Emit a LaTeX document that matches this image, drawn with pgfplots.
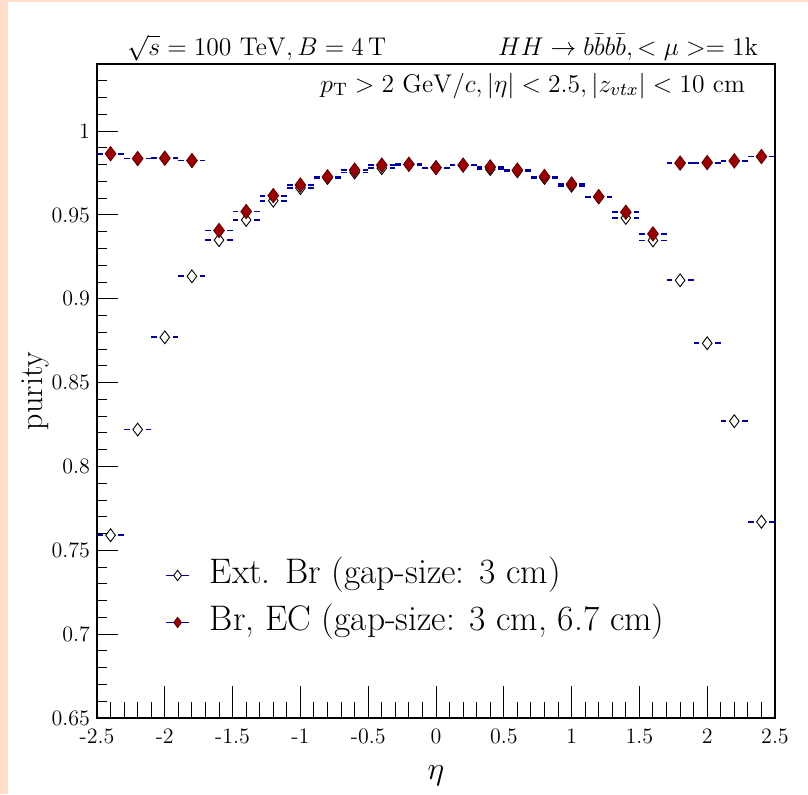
\RequirePackage{fix-cm}
\documentclass[border=0pt]{standalone}
\usepackage{pgfplots}
\pgfplotsset{compat=1.18}
\definecolor{peach}{RGB}{255,221,200}
\definecolor{errblue}{RGB}{0,0,160}
\definecolor{mred}{RGB}{155,0,0}
\definecolor{mredd}{RGB}{90,0,0}
\begin{document}
\begin{tikzpicture}
\useasboundingbox (-48.5pt,-38pt) rectangle (355.5pt,359pt);
\fill[peach] (-48.5pt,-38pt) rectangle (355.5pt,359pt);
\fill[white] (-44.5pt,-38pt) rectangle (355.5pt,358pt);
\begin{axis}[
  at={(0pt,0pt)}, anchor=south west,
  scale only axis, width=339pt, height=327pt,
  xmin=-2.5, xmax=2.5, ymin=0.65, ymax=1.04,
  xtick distance=0.5, ytick distance=0.05,
  minor x tick num=4, minor y tick num=4,
  xtick pos=left, ytick pos=left,
  tick align=inside,
  major tick length=10.5pt, minor tick length=5pt,
  every major x tick/.append style={/pgfplots/major tick length=16pt},
  every minor x tick/.append style={/pgfplots/minor tick length=8pt},
  axis line style={line width=0.7pt},
  tick style={line width=0.5pt, black},
  /pgf/number format/assume math mode=true,
  tick label style={font=\fontsize{11}{13}\selectfont},
  xticklabel style={yshift=-2pt},
  xlabel={$\eta$}, ylabel={purity},
  xlabel style={at={(axis description cs:0.5,-0.089)}, anchor=center, font=\fontsize{16}{19}\selectfont},
  ylabel style={at={(axis description cs:-0.0915,0.5)}, anchor=center, font=\fontsize{16}{19}\selectfont},
  clip=false,
  legend style={at={(axis description cs:0.1003,0.2431)}, anchor=north west, draw=none, fill=none,
     inner sep=0pt, row sep=7.5pt, column sep=10pt,
     font=\fontsize{17.75}{21}\selectfont,
     nodes={inner sep=0pt, text height=12pt, text depth=4pt}},
  legend cell align=left,
  legend image code/.code={
     \draw[draw=errblue, line width=0.7pt] (0pt,0pt) -- (11.5pt,0pt);
     \draw[#1, mark size=2.6pt] plot coordinates {(5.75pt,0pt)};
  },
  error bars/error bar style={draw=errblue, line width=0.9pt, dash pattern=on 2.85pt off 3.93pt, dash phase=2.85pt},
  error bars/error mark=none,
]
\addplot[only marks, mark=diamond*, mark size=3.2pt, mark options={fill=white, draw=black, line width=0.45pt},
  error bars/.cd, x dir=both, x explicit]
coordinates {
(-2.4,0.759) +- (0.1,0)
(-2.2,0.822) +- (0.1,0)
(-2.0,0.877) +- (0.1,0)
(-1.8,0.9134) +- (0.1,0)
(-1.6,0.935) +- (0.1,0)
(-1.4,0.947) +- (0.1,0)
(-1.2,0.9585) +- (0.1,0)
(-1.0,0.966) +- (0.1,0)
(-0.8,0.972) +- (0.1,0)
(-0.6,0.9753) +- (0.1,0)
(-0.4,0.9779) +- (0.1,0)
(-0.2,0.9800) +- (0.1,0)
(0.0,0.9782) +- (0.1,0)
(0.2,0.9795) +- (0.1,0)
(0.4,0.9773) +- (0.1,0)
(0.6,0.9760) +- (0.1,0)
(0.8,0.9720) +- (0.1,0)
(1.0,0.9674) +- (0.1,0)
(1.2,0.9605) +- (0.1,0)
(1.4,0.9482) +- (0.1,0)
(1.6,0.9348) +- (0.1,0)
(1.8,0.9110) +- (0.1,0)
(2.0,0.8735) +- (0.1,0)
(2.2,0.8270) +- (0.1,0)
(2.4,0.7670) +- (0.1,0)
};
\addlegendentry{Ext. Br (gap-size: 3 cm)}
\addplot[only marks, mark=diamond*, mark size=3.6pt, mark options={fill=mred, draw=mredd, line width=0.4pt},
  error bars/.cd, x dir=both, x explicit]
coordinates {
(-2.4,0.9865) +- (0.1,0)
(-2.2,0.9836) +- (0.1,0)
(-2.0,0.9838) +- (0.1,0)
(-1.8,0.9824) +- (0.1,0)
(-1.6,0.9407) +- (0.1,0)
(-1.4,0.9520) +- (0.1,0)
(-1.2,0.9615) +- (0.1,0)
(-1.0,0.9678) +- (0.1,0)
(-0.8,0.9727) +- (0.1,0)
(-0.6,0.9767) +- (0.1,0)
(-0.4,0.9797) +- (0.1,0)
(-0.2,0.9802) +- (0.1,0)
(0.0,0.9782) +- (0.1,0)
(0.2,0.9797) +- (0.1,0)
(0.4,0.9786) +- (0.1,0)
(0.6,0.9767) +- (0.1,0)
(0.8,0.9729) +- (0.1,0)
(1.0,0.9684) +- (0.1,0)
(1.2,0.9609) +- (0.1,0)
(1.4,0.9516) +- (0.1,0)
(1.6,0.9387) +- (0.1,0)
(1.8,0.9809) +- (0.1,0)
(2.0,0.9812) +- (0.1,0)
(2.2,0.9822) +- (0.1,0)
(2.4,0.9848) +- (0.1,0)
};
\addlegendentry{Br, EC (gap-size: 3 cm, 6.7 cm)}
\node[anchor=base west, font=\fontsize{12.8}{15}\selectfont] at ([xshift=11.5pt,yshift=4.5pt]rel axis cs:0,1)
  {$\sqrt{s}=100\ \mathrm{TeV}, B=4\,\mathrm{T}$};
\node[anchor=base east, font=\fontsize{12.8}{15}\selectfont] at ([xshift=-5pt,yshift=4.5pt]rel axis cs:1,1)
  {$HH\rightarrow b\bar{b}b\bar{b}, <\mu>= 1\mathrm{k}$};
\node[anchor=base east, font=\fontsize{12.8}{15}\selectfont] at ([xshift=-11.5pt,yshift=-14pt]rel axis cs:1,1)
  {$p_{\mathrm{T}}>2\ \mathrm{GeV}/c, |\eta|<2.5, |z_{vtx}|<10\ \mathrm{cm}$};
\end{axis}
\end{tikzpicture}
\end{document}
